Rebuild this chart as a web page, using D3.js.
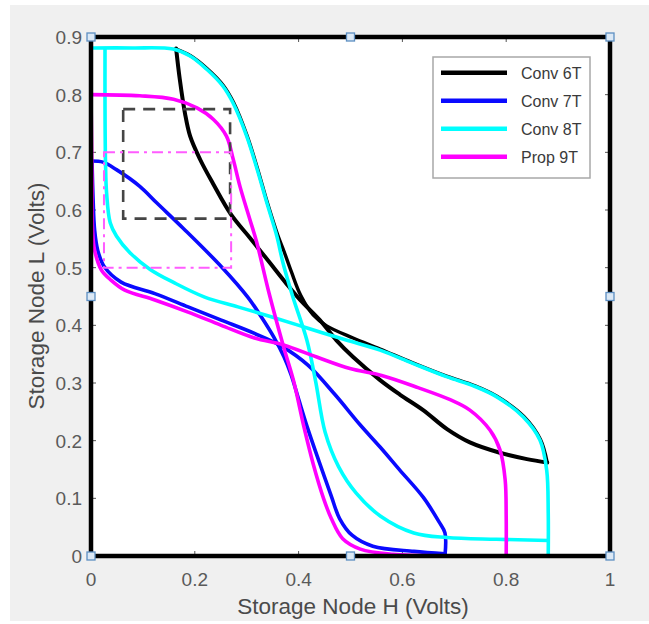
<!DOCTYPE html>
<html>
<head>
<meta charset="utf-8">
<script src="https://cdn.jsdelivr.net/npm/d3@7"></script>
<style>
  html, body { margin: 0; padding: 0; background: #ffffff; }
  svg { display: block; font-family: "Liberation Sans", Arial, sans-serif; }
</style>
</head>
<body>
<svg id="chart" width="649" height="624"></svg>
<script>
// Butterfly curves: storage node L vs storage node H (volts)
const xTicks = [0, 0.2, 0.4, 0.6, 0.8, 1];
const yTicks = [0, 0.1, 0.2, 0.3, 0.4, 0.5, 0.6, 0.7, 0.8, 0.9];
const xTickLabels = ["0", "0.2", "0.4", "0.6", "0.8", "1"];
const yTickLabels = ["0", "0.1", "0.2", "0.3", "0.4", "0.5", "0.6", "0.7", "0.8", "0.9"];

const seriesNames = ["Conv 6T", "Conv 7T", "Conv 8T", "Prop 9T"];
const seriesColors = ["#000000", "#0a0aff", "#00ffff", "#ff00ff"];

// Conv 6T
const conv6T_a = [[0.164,0.880],[0.171,0.827],[0.181,0.768],[0.191,0.728],[0.210,0.688],[0.235,0.646],[0.270,0.592],
  [0.306,0.552],[0.345,0.508],[0.375,0.474],[0.403,0.444],[0.441,0.409],[0.473,0.374],[0.505,0.345],[0.557,0.305],
  [0.595,0.280],[0.640,0.253],[0.686,0.220],[0.730,0.197],[0.788,0.179],[0.840,0.168],[0.879,0.162]];
const conv6T_b = [[0.164,0.879],[0.191,0.868],[0.224,0.845],[0.255,0.816],[0.275,0.786],[0.301,0.728],[0.321,0.671],
  [0.340,0.612],[0.360,0.556],[0.372,0.528],[0.386,0.493],[0.404,0.452],[0.428,0.418],[0.454,0.399],[0.505,0.378],
  [0.557,0.359],[0.620,0.335],[0.685,0.312],[0.740,0.295],[0.782,0.277],[0.834,0.242],[0.866,0.202],[0.879,0.162]];

// Conv 7T
const conv7T_a = [[0.000,0.685],[0.023,0.683],[0.049,0.670],[0.094,0.641],[0.127,0.612],[0.178,0.568],[0.253,0.500],
  [0.302,0.449],[0.328,0.415],[0.352,0.380],[0.372,0.345],[0.386,0.313],[0.400,0.272],[0.418,0.220],[0.439,0.165],
  [0.463,0.104],[0.479,0.065],[0.503,0.036],[0.543,0.017],[0.622,0.008],[0.682,0.004]];
const conv7T_b = [[0.682,0.000],[0.682,0.040],[0.670,0.060],[0.640,0.102],[0.595,0.149],[0.557,0.189],[0.518,0.228],
  [0.470,0.280],[0.418,0.331],[0.367,0.364],[0.315,0.386],[0.251,0.409],[0.187,0.432],[0.123,0.455],[0.058,0.475],
  [0.026,0.501],[0.013,0.530],[0.007,0.565],[0.004,0.620],[0.002,0.685]];

// Conv 8T
const conv8T_a = [[0.003,0.881],[0.080,0.881],[0.158,0.879],[0.191,0.867],[0.223,0.844],[0.254,0.815],[0.274,0.785],
  [0.300,0.728],[0.320,0.671],[0.339,0.612],[0.358,0.555],[0.370,0.508],[0.389,0.449],[0.416,0.374],[0.433,0.302],
  [0.451,0.215],[0.477,0.155],[0.511,0.109],[0.558,0.069],[0.622,0.040],[0.686,0.032],[0.781,0.029],[0.881,0.027]];
const conv8T_b = [[0.027,0.880],[0.027,0.780],[0.028,0.680],[0.030,0.630],[0.037,0.578],[0.049,0.555],[0.075,0.526],
  [0.114,0.497],[0.160,0.474],[0.219,0.449],[0.283,0.432],[0.347,0.415],[0.418,0.395],[0.490,0.375],[0.557,0.357],
  [0.620,0.334],[0.685,0.311],[0.740,0.294],[0.782,0.276],[0.833,0.241],[0.865,0.201],[0.878,0.149],[0.881,0.074],
  [0.881,0.000]];

// Prop 9T
const prop9T_a = [[0.000,0.800],[0.094,0.798],[0.159,0.792],[0.204,0.777],[0.236,0.757],[0.261,0.728],[0.274,0.688],
  [0.287,0.641],[0.306,0.584],[0.319,0.545],[0.343,0.456],[0.371,0.363],[0.390,0.305],[0.410,0.225],[0.428,0.160],
  [0.448,0.100],[0.463,0.065],[0.485,0.030],[0.519,0.012],[0.582,0.003],[0.700,0.000],[0.800,0.000]];
const prop9T_b = [[0.800,0.000],[0.800,0.068],[0.798,0.132],[0.788,0.184],[0.769,0.218],[0.730,0.253],[0.692,0.271],
  [0.630,0.292],[0.560,0.313],[0.499,0.325],[0.435,0.345],[0.371,0.366],[0.315,0.378],[0.251,0.400],[0.187,0.423],
  [0.123,0.444],[0.065,0.461],[0.039,0.478],[0.020,0.496],[0.007,0.530],[0.003,0.565],[0.002,0.650],[0.000,0.800]];

const seriesCurves = [[conv6T_a, conv6T_b], [conv7T_a, conv7T_b], [conv8T_a, conv8T_b], [prop9T_a, prop9T_b]];

// Highlighted noise-margin squares: [x0, x1, y0, y1]
const conv6TBox = [0.062, 0.268, 0.585, 0.775];
const prop9TBox = [0.025, 0.270, 0.500, 0.700];

const xTitle = "Storage Node H (Volts)";
const yTitle = "Storage Node L (Volts)";

const svg = d3.select("#chart");
const W = 649, H = 624;
const x = d3.scaleLinear().domain([0, 1]).range([91, 610]);
const y = d3.scaleLinear().domain([0, 0.9]).range([556, 37]);

// figure background
svg.append("rect").attr("x", 0).attr("y", 0).attr("width", W).attr("height", H).attr("fill", "#ffffff");
svg.append("rect").attr("x", 10).attr("y", 5).attr("width", W - 10).attr("height", 616).attr("fill", "#f0f0f0");
// axes background
svg.append("rect").attr("x", x(0)).attr("y", y(0.9)).attr("width", x(1) - x(0)).attr("height", y(0) - y(0.9))
  .attr("fill", "#ffffff");

// inward ticks on all four sides
const tickLen = 5;
const tickG = svg.append("g").attr("stroke", "#555").attr("stroke-width", 1);
xTicks.forEach(t => {
  tickG.append("line").attr("x1", x(t)).attr("x2", x(t)).attr("y1", y(0)).attr("y2", y(0) - tickLen);
  tickG.append("line").attr("x1", x(t)).attr("x2", x(t)).attr("y1", y(0.9)).attr("y2", y(0.9) + tickLen);
});
yTicks.forEach(t => {
  tickG.append("line").attr("x1", x(0)).attr("x2", x(0) + tickLen).attr("y1", y(t)).attr("y2", y(t));
  tickG.append("line").attr("x1", x(1)).attr("x2", x(1) - tickLen).attr("y1", y(t)).attr("y2", y(t));
});

// tick labels
svg.append("g").selectAll("text").data(xTicks).join("text")
  .attr("x", d => x(d)).attr("y", 586).attr("text-anchor", "middle")
  .attr("font-size", 19).attr("fill", "#5a5a5a")
  .text((d, i) => xTickLabels[i]);
svg.append("g").selectAll("text").data(yTicks).join("text")
  .attr("x", 82).attr("y", d => y(d) + 7).attr("text-anchor", "end")
  .attr("font-size", 19).attr("fill", "#5a5a5a")
  .text((d, i) => yTickLabels[i]);

// axis titles
svg.append("text").attr("x", 353).attr("y", 614).attr("text-anchor", "middle")
  .attr("font-size", 22.5).attr("fill", "#4a4a4a").text(xTitle);
svg.append("text").attr("transform", "translate(44,296) rotate(-90)").attr("text-anchor", "middle")
  .attr("font-size", 22.5).attr("fill", "#4a4a4a").text(yTitle);

// curves
const line = d3.line().x(d => x(d[0])).y(d => y(d[1])).curve(d3.curveCatmullRom.alpha(0.5));
const curveG = svg.append("g").attr("fill", "none").attr("stroke-linejoin", "round").attr("stroke-linecap", "round");
seriesCurves.forEach((branches, i) => {
  branches.forEach((pts, j) => {
    curveG.append("path").attr("d", line(pts))
      .attr("stroke", seriesColors[i]).attr("stroke-width", i === 0 ? (j === 0 ? 4 : 3.4) : 3.6);
  });
});

// noise-margin squares
svg.append("rect")
  .attr("x", x(conv6TBox[0])).attr("y", y(conv6TBox[3]))
  .attr("width", x(conv6TBox[1]) - x(conv6TBox[0])).attr("height", y(conv6TBox[2]) - y(conv6TBox[3]))
  .attr("fill", "none").attr("stroke", "#454545").attr("stroke-width", 2.6).attr("stroke-dasharray", "12,8");
svg.append("rect")
  .attr("x", x(prop9TBox[0])).attr("y", y(prop9TBox[3]))
  .attr("width", x(prop9TBox[1]) - x(prop9TBox[0])).attr("height", y(prop9TBox[2]) - y(prop9TBox[3]))
  .attr("fill", "none").attr("stroke", "#ff5cff").attr("stroke-width", 2).attr("stroke-dasharray", "11,5,3,5");

// axes box
svg.append("rect").attr("x", x(0)).attr("y", y(0.9)).attr("width", x(1) - x(0)).attr("height", y(0) - y(0.9))
  .attr("fill", "none").attr("stroke", "#000").attr("stroke-width", 4.5);

// selection handles
const handleXs = [0, 0.5, 1], handleYs = [0, 0.45, 0.9];
handleXs.forEach(hx => handleYs.forEach(hy => {
  if (hx === 0.5 && hy === 0.45) return;
  svg.append("rect").attr("x", x(hx) - 4).attr("y", y(hy) - 4).attr("width", 8).attr("height", 8)
    .attr("fill", "#dbe8f5").attr("stroke", "#5d8fc2").attr("stroke-width", 1.3);
}));

// legend
const lg = svg.append("g");
lg.append("rect").attr("x", 433).attr("y", 57).attr("width", 157).attr("height", 121)
  .attr("fill", "#ffffff").attr("stroke", "#a8a8a8").attr("stroke-width", 1.5);
seriesNames.forEach((name, i) => {
  const ly = 72.7 + i * 28;
  lg.append("line").attr("x1", 441).attr("x2", 507).attr("y1", ly).attr("y2", ly)
    .attr("stroke", seriesColors[i]).attr("stroke-width", 4.5);
  lg.append("text").attr("x", 521).attr("y", ly + 6).attr("font-size", 16).attr("fill", "#3a3a3a").text(name);
});
</script>
</body>
</html>
